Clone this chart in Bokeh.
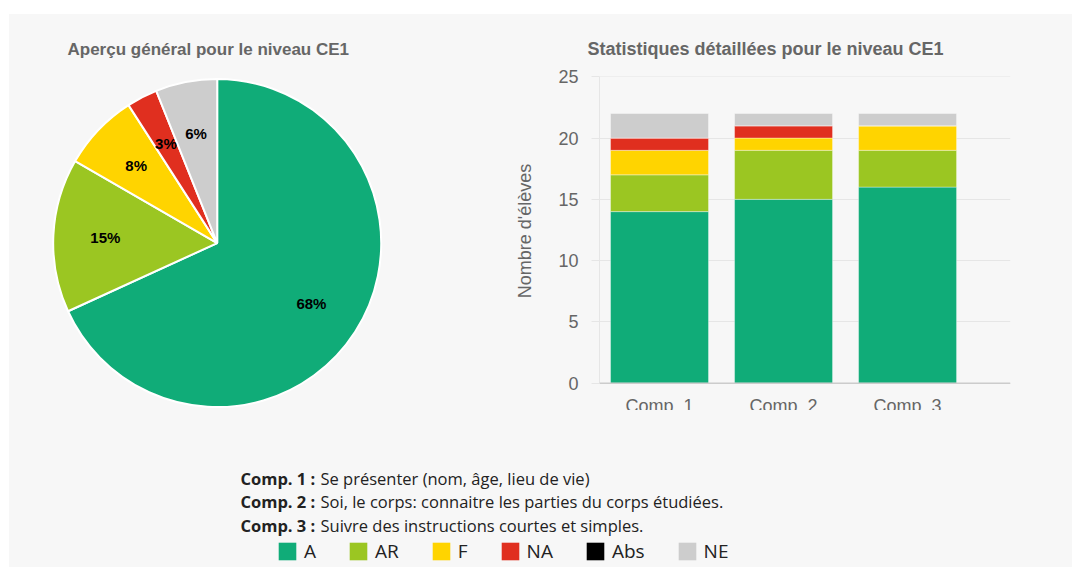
import math
from bokeh.plotting import figure
from bokeh.layouts import column, row
from bokeh.models import (ColumnDataSource, Range1d, FixedTicker, LabelSet,
                          Legend, LegendItem, Spacer, Span)
from bokeh.core.properties import value
from bokeh.embed import file_html
from bokeh.resources import INLINE

# ---------------- data ----------------
categories = ["Comp. 1", "Comp. 2", "Comp. 3"]
levels = ["A", "AR", "F", "NA", "Abs", "NE"]
A = [14, 15, 16]
AR = [3, 4, 3]
F = [2, 1, 2]
NA = [1, 1, 0]
Abs = [0, 0, 0]
NE = [2, 1, 1]
colors = ["#10ac78", "#9bc622", "#ffd400", "#e02f1f", "#000000", "#cdcdcd"]
y_ticks = [0, 5, 10, 15, 20, 25]
comp_titles = ["Comp. 1 :", "Comp. 2 :", "Comp. 3 :"]
comp_texts = ["Se présenter (nom, âge, lieu de vie)",
              "Soi, le corps: connaitre les parties du corps étudiées.",
              "Suivre des instructions courtes et simples."]
pie_title = "Aperçu général pour le niveau CE1"
bar_title = "Statistiques détaillées pour le niveau CE1"
y_label = "Nombre d'élèves"

BG = "#f7f7f7"
GRAY_TXT = "#666666"
SANS = "Liberation Sans"
OPEN = "Open Sans"
NAN = float("nan")

# ---------------- pie ----------------
series = [A, AR, F, NA, Abs, NE]
totals = [sum(s) for s in series]
grand = sum(totals)

pie = figure(width=499, height=396, title=pie_title,
             x_range=Range1d(-207.7, 291.3), y_range=Range1d(-167.4, 166.6),
             output_backend="svg", toolbar_location=None,
             min_border_left=0, min_border_right=0, min_border_top=62, min_border_bottom=0,
             background_fill_color=BG, border_fill_color=BG, outline_line_color=None)
pie.axis.visible = False
pie.grid.visible = False
pie.title.align = "left"
pie.title.offset = 58
pie.title.standoff = 36
pie.title.text_font = SANS
pie.title.text_font_size = "17px"
pie.title.text_font_style = "bold"
pie.title.text_color = GRAY_TXT

starts, ends, wcolors, lx, ly, ltxt = [], [], [], [], [], []
cum = 0.0
for tot, col in zip(totals, colors):
    if tot == 0:
        continue
    frac = tot / grand
    a0 = math.pi / 2 - cum * 2 * math.pi
    a1 = math.pi / 2 - (cum + frac) * 2 * math.pi
    mid = (a0 + a1) / 2
    starts.append(a0)
    ends.append(a1)
    wcolors.append(col)
    lx.append(112 * math.cos(mid))
    ly.append(112 * math.sin(mid))
    ltxt.append(f"{round(frac * 100)}%")
    cum += frac

pie_src = ColumnDataSource(dict(start=starts, end=ends, color=wcolors))
pie.wedge(x=0, y=0, radius=164, start_angle="start", end_angle="end",
          direction="clock", fill_color="color", line_color="white",
          line_width=2, source=pie_src)
pie.text(x=lx, y=ly, text=ltxt, text_font=value(SANS), text_font_size="15px",
         text_font_style="bold", text_color="#000000",
         text_align="center", text_baseline="middle")

# ---------------- stacked bars ----------------
bar = figure(width=564, height=396, title=bar_title,
             x_range=Range1d(0.516, 3.83), y_range=Range1d(-2.22, 25.02),
             output_backend="svg", toolbar_location=None,
             min_border_left=91, min_border_right=62, min_border_top=62, min_border_bottom=0,
             background_fill_color=BG, border_fill_color=BG, outline_line_color=None)
bar.title.align = "left"
bar.title.offset = -12
bar.title.standoff = 36
bar.title.text_font = SANS
bar.title.text_font_size = "18px"
bar.title.text_font_style = "bold"
bar.title.text_color = GRAY_TXT

src = ColumnDataSource(dict(x=[1, 2, 3], A=A, AR=AR, F=F, NA=NA, Abs=Abs, NE=NE))
bar.vbar_stack(levels, x="x", width=0.79, color=colors, source=src,
               line_color="white", line_width=0.6, line_alpha=0.6)

bar.xgrid.visible = False
bar.ygrid.grid_line_color = "#e6e6e6"
bar.ygrid.grid_line_width = 1
bar.xaxis.visible = False
bar.add_layout(Span(location=0, dimension="width", line_color="#cccccc", line_width=1.5))

bar.yaxis.ticker = FixedTicker(ticks=y_ticks)
bar.yaxis.bounds = (y_ticks[0], y_ticks[-1])
# leading no-break spaces lift the (frame-centred) label to the middle of 0..25
bar.yaxis.axis_label = "\u00a0" * 5 + y_label
bar.yaxis.axis_label_text_font = SANS
bar.yaxis.axis_label_text_font_size = "18px"
bar.yaxis.axis_label_text_font_style = "normal"
bar.yaxis.axis_label_text_color = GRAY_TXT
bar.yaxis.axis_label_standoff = 20
bar.yaxis.major_label_text_font = SANS
bar.yaxis.major_label_text_font_size = "18px"
bar.yaxis.major_label_text_color = GRAY_TXT
bar.yaxis.major_label_standoff = 13
bar.yaxis.major_tick_out = 8
bar.yaxis.major_tick_in = 0
bar.yaxis.major_tick_line_color = "#e6e6e6"
bar.yaxis.minor_tick_line_color = None
bar.yaxis.axis_line_color = "#e6e6e6"

lab_src = ColumnDataSource(dict(x=[1, 2, 3], y=[0, 0, 0], text=categories))
bar.add_layout(LabelSet(x="x", y="y", text="text", source=lab_src, y_offset=-13,
                        text_align="center", text_baseline="top",
                        text_font=value(SANS), text_font_size="18px",
                        text_color=GRAY_TXT))

# ---------------- legend / descriptions ----------------
leg = figure(width=1063, height=157, x_range=Range1d(0, 1063), y_range=Range1d(0, 157),
             output_backend="svg", toolbar_location=None, min_border=0,
             background_fill_color=BG, border_fill_color=BG, outline_line_color=None)
leg.axis.visible = False
leg.grid.visible = False

line_y = [89.5 - 23.5 * i for i in range(len(comp_titles))]
leg.text(x=[231] * len(comp_titles), y=line_y, text=comp_titles,
         text_font=value(OPEN), text_font_size="16.5px", text_font_style="bold",
         text_color="#222222", text_baseline="middle")
leg.text(x=[311] * len(comp_texts), y=line_y, text=comp_texts,
         text_font=value(OPEN), text_font_size="16.5px",
         text_color="#222222", text_baseline="middle")

items = []
for lvl, col in zip(levels, colors):
    r = leg.vbar(x=[NAN], top=[NAN], width=1, fill_color=col, line_color=None)
    items.append(LegendItem(label=lvl, renderers=[r]))
legend = Legend(items=items, orientation="horizontal", location=(267, 3),
                padding=0, margin=0, spacing=31, glyph_width=22, glyph_height=22,
                label_standoff=6, label_width=0,
                label_text_font=OPEN, label_text_font_size="19px",
                label_text_color="#222222", border_line_color=None,
                background_fill_alpha=0)
leg.add_layout(legend)

panel = column(row(pie, bar), leg, styles={"background-color": BG})
layout = column(Spacer(width=1072, height=14),
                row(Spacer(width=9, height=553), panel))
open("out.html", "w").write(file_html(layout, INLINE))
